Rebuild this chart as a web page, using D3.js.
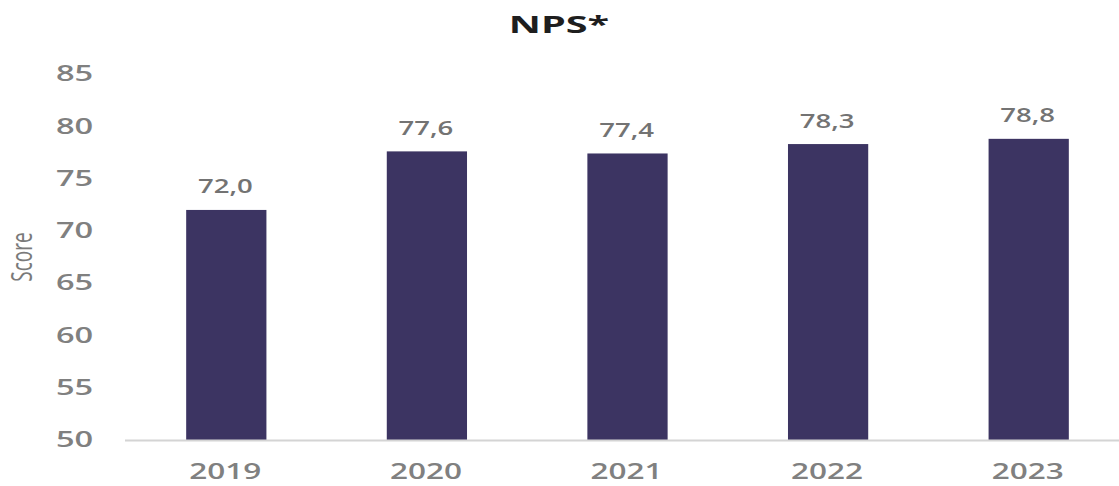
<!DOCTYPE html>
<html>
<head>
<meta charset="utf-8">
<script src="https://cdn.jsdelivr.net/npm/d3@7/dist/d3.min.js"></script>
<style>
  html, body { margin: 0; padding: 0; background: #ffffff; }
  svg { display: block; font-family: "Open Sans", sans-serif; }
</style>
</head>
<body>
<svg id="chart" width="1119" height="486"></svg>
<script>
const title = "NPS*";
const yAxisTitle = "Score";
const years = ["2019", "2020", "2021", "2022", "2023"];
const scores = [72.0, 77.6, 77.4, 78.3, 78.8];
const yTicks = [50, 55, 60, 65, 70, 75, 80, 85];

const stretch = 1.5;
const svg = d3.select("#chart");

const x = d3.scaleBand()
  .domain(years)
  .range([126, 1129])
  .paddingInner(0.6)
  .paddingOuter(0.3);

const y = d3.scaleLinear()
  .domain([50, 85])
  .range([440, 74]);

const fmt = v => d3.format(".1f")(v).replace(".", ",");

// title
svg.append("text")
  .attr("transform", `translate(559,33) scale(1.72,1)`)
  .attr("text-anchor", "middle")
  .attr("font-size", 23)
  .attr("font-weight", "bold")
  .attr("fill", "#1e1e1e")
  .text(title);

// y axis (labels only)
const yAxis = svg.append("g")
  .attr("transform", "translate(125,0)")
  .call(d3.axisLeft(y).tickValues(yTicks).tickSize(0).tickPadding(0));
yAxis.select(".domain").remove();
yAxis.selectAll(".tick text")
  .attr("x", -20.5)
  .attr("transform", `scale(1.55,1)`)
  .attr("font-family", "Open Sans")
  .attr("font-size", 21)
  .attr("font-weight", 600)
  .attr("fill", "#808080");

// y axis title
svg.append("text")
  .attr("transform", `translate(32,257) scale(1.55,1) rotate(-90)`)
  .attr("text-anchor", "middle")
  .attr("font-size", 19)
  .attr("fill", "#7a7a7a")
  .text(yAxisTitle);

// bars
svg.append("g").selectAll("rect")
  .data(years.map((yr, i) => ({ yr, v: scores[i] })))
  .join("rect")
  .attr("x", d => x(d.yr))
  .attr("width", x.bandwidth())
  .attr("y", d => y(d.v))
  .attr("height", d => y(50) - y(d.v))
  .attr("fill", "#3c3462");

// value labels
svg.append("g").selectAll("text")
  .data(years.map((yr, i) => ({ yr, v: scores[i] })))
  .join("text")
  .attr("transform", d => `translate(${x(d.yr) + x.bandwidth() / 2 - 1},${y(d.v) - 16.5}) scale(1.45,1)`)
  .attr("text-anchor", "middle")
  .attr("font-size", 19)
  .attr("font-weight", 600)
  .attr("fill", "#737373")
  .text(d => fmt(d.v));

// x axis
const xAxis = svg.append("g")
  .attr("transform", "translate(0,440)")
  .call(d3.axisBottom(x).tickSize(0).tickPadding(0).tickSizeOuter(0));
xAxis.select(".domain")
  .attr("stroke", "#d4d4d4")
  .attr("stroke-width", 2)
  .attr("d", "M125,0.5H1119");
xAxis.selectAll(".tick text")
  .attr("y", 0)
  .attr("dy", 0)
  .attr("transform", `translate(-1,38.5) scale(1.5,1)`)
  .attr("font-family", "Open Sans")
  .attr("font-size", 21)
  .attr("font-weight", 600)
  .attr("fill", "#808080");
</script>
</body>
</html>
